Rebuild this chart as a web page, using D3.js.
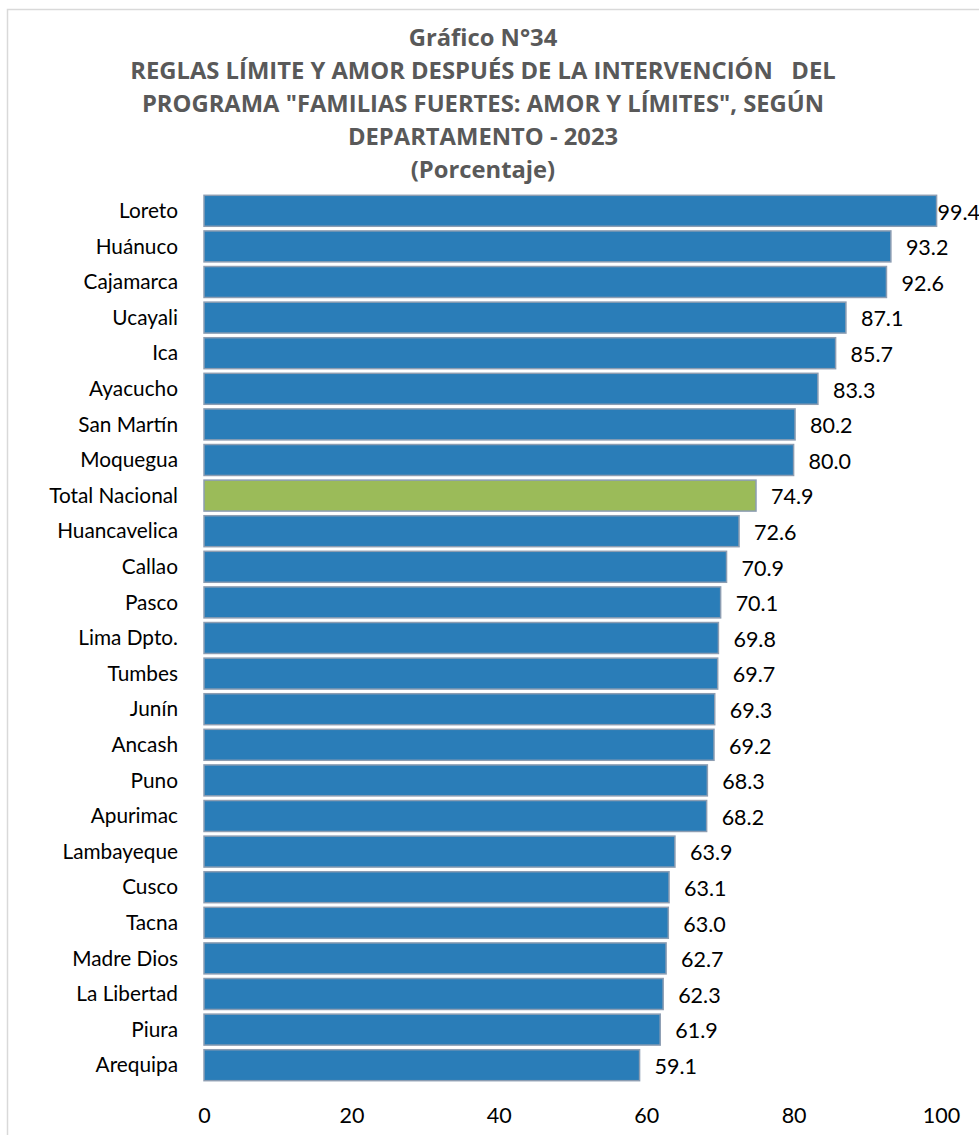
<!DOCTYPE html>
<html><head><meta charset="utf-8">
<script src="https://cdn.jsdelivr.net/npm/d3@7"></script>
<style>body{margin:0;background:#fff}svg{display:block}</style>
</head><body>
<script>
const categories = ["Loreto","Huánuco","Cajamarca","Ucayali","Ica","Ayacucho","San Martín","Moquegua","Total Nacional","Huancavelica","Callao","Pasco","Lima Dpto.","Tumbes","Junín","Ancash","Puno","Apurimac","Lambayeque","Cusco","Tacna","Madre Dios","La Libertad","Piura","Arequipa"];
const values = [99.4,93.2,92.6,87.1,85.7,83.3,80.2,80.0,74.9,72.6,70.9,70.1,69.8,69.7,69.3,69.2,68.3,68.2,63.9,63.1,63.0,62.7,62.3,61.9,59.1];
const highlight = ["Total Nacional"];
const ticks = [0,20,40,60,80,100];
const titleLines = ["Gráfico N°34","REGLAS LÍMITE Y AMOR DESPUÉS DE LA INTERVENCIÓN   DEL","PROGRAMA \"FAMILIAS FUERTES: AMOR Y LÍMITES\", SEGÚN","DEPARTAMENTO - 2023","(Porcentaje)"];

const W = 979, H = 1135;
const svg = d3.select("body").append("svg").attr("width", W).attr("height", H);
const font = "Lato, 'Open Sans', sans-serif";
const tfont = "'Open Sans', Lato, sans-serif";

// frame
svg.append("path").attr("d", `M7.5,${H+5} V9.5 H${W+5}`).attr("fill","none").attr("stroke","#d9d9d9").attr("stroke-width",1.5);

// title
const tg = svg.append("g");
const tt = tg.selectAll("text").data(titleLines).join("text")
  .attr("x", 483).attr("y", (d,i) => 46 + i*33)
  .attr("text-anchor","middle").attr("font-family",tfont).attr("font-weight","bold")
  .attr("font-size","20px").attr("fill","#595959")
  .attr("xml:space","preserve").style("white-space","pre")
  .text(d => d);
const w2 = tt.nodes()[1].getComputedTextLength();
const fs = 20 * 706 / w2;
tt.attr("font-size", fs + "px");

const x = d3.scaleLinear().domain([0,100]).range([204, 941]);
const y = d3.scaleBand().domain(categories).range([193, 193 + 25*35.6]).paddingInner(0.13).paddingOuter(0.065);

const data = categories.map((c,i) => ({c, v: values[i]}));

svg.append("g").selectAll("rect").data(data).join("rect")
  .attr("x", x(0)).attr("y", d => y(d.c))
  .attr("width", d => x(d.v) - x(0)).attr("height", y.bandwidth())
  .attr("fill", d => highlight.includes(d.c) ? "#9BBB59" : "#2A7DB8")
  .attr("stroke", "#8C9DB2").attr("stroke-width", 1.5);

// category labels
svg.append("g").selectAll("text").data(data).join("text")
  .attr("x", 178).attr("y", d => y(d.c) + y.bandwidth()/2)
  .attr("dy","0.35em").attr("text-anchor","end")
  .attr("font-family",font).attr("font-size","20.8px").attr("fill","#000")
  .text(d => d.c);

// value labels
svg.append("g").selectAll("text").data(data).join("text")
  .attr("x", d => x(d.v) + 15 > W - 42 ? x(d.v) + 1 : x(d.v) + 15)
  .attr("y", d => y(d.c) + y.bandwidth()/2 + 1)
  .attr("dy","0.36em")
  .attr("font-family",font).attr("font-size","21.5px").attr("fill","#000")
  .text(d => d.v.toFixed(1));

// x axis
const ax = svg.append("g").attr("transform", `translate(0,${1123})`)
  .call(d3.axisBottom(x).tickValues(ticks).tickSize(0).tickPadding(0).tickFormat(d3.format("d")));
ax.select(".domain").remove();
ax.selectAll("text").attr("font-family",font).attr("font-size","21.5px").attr("fill","#000").attr("dy","0").attr("y",0);
</script>
</body></html>
